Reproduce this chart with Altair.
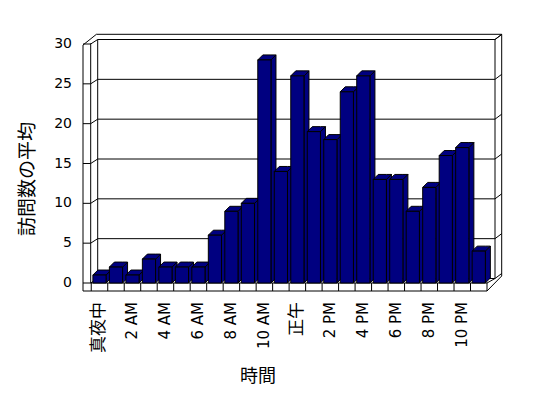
import altair as alt
import pandas as pd

# ---------------- data ----------------
hours = list(range(24))
visits = [1, 2, 1, 3, 2, 2, 2, 6, 9, 10, 28, 14, 26, 19, 18, 24, 26, 13, 13, 9, 12, 16, 17, 4]
label_hours = [0, 2, 4, 6, 8, 10, 12, 14, 16, 18, 20, 22]
x_labels = ["真夜中", "2 AM", "4 AM", "6 AM", "8 AM", "10 AM", "正午", "2 PM", "4 PM", "6 PM", "8 PM", "10 PM"]
y_ticks = [0, 5, 10, 15, 20, 25, 30]
x_title = "時間"
y_title = "訪問数の平均"

# ---------------- geometry / style ----------------
W, H = 404, 239
X0, X1 = -0.6, 23.9
Y0, Y1 = 0, 30
ux = W / (X1 - X0)
uy = H / (Y1 - Y0)
BW = 0.8                 # bar front width in category units
DX = 5 / ux              # 3D depth (x) in data units
DY = 5 / uy              # 3D depth (y) in data units
NAVY = "#000080"
FONT = "DejaVu Sans, Noto Sans CJK JP"
CJK = "Noto Sans CJK JP"

def xd(px):  # plot-local pixel -> x data
    return X0 + px / ux

def yd(py):  # plot-local pixel (from top) -> y data
    return Y1 - py / uy

xs = alt.Scale(domain=[X0, X1], nice=False, zero=False)
ys = alt.Scale(domain=[Y0, Y1], nice=False, zero=False)

def X(f):
    return alt.X(f, type="quantitative", scale=xs, axis=None)

def Y(f):
    return alt.Y(f, type="quantitative", scale=ys, axis=None, stack=None)

# ---------------- frame (walls, floor, gridlines) ----------------
LWI, BXL, BYO = 7.7, 14.7, -4.5
RWI, RWO, TOPO, FL = W + 8, W + 14.7, -9.7, 8
segs = [
    ((0, 1), (0, H + FL)),
    ((0, 1), (13.4, TOPO)),
    ((13.4, TOPO), (RWO, TOPO)),
    ((LWI, -0.7), (LWI, H)),
    ((BXL, BYO), (BXL, H + BYO)),
    ((RWI, BYO), (RWI, H + BYO)),
    ((RWO, TOPO), (RWO, H - 7)),
    ((RWO, H - 7), (W, H + FL)),
    ((RWI, BYO), (RWO, TOPO)),
    ((LWI, H), (W, H)),
    ((0, H + FL), (W, H + FL)),
    ((W, H), (RWI, H + BYO)),
]
for v in y_ticks:
    py = (Y1 - v) * uy
    segs += [
        ((0, py), (LWI, py)),
        ((LWI, py), (BXL, py + BYO)),
        ((BXL, py + BYO), (RWI, py + BYO)),
        ((RWI, py + BYO), (RWO, py + BYO - 5)),
    ]
for k in range(25):
    px = (k - 0.1 - X0) * ux
    segs.append(((px, H), (px, H + FL)))

frame_df = pd.DataFrame(
    [{"x": xd(a[0]), "y": yd(a[1]), "x2": xd(b[0]), "y2": yd(b[1])} for a, b in segs]
)

# ---------------- bars ----------------
bars = pd.DataFrame({"hour": hours, "visits": visits})
bars["x0"] = bars["hour"]
bars["x1"] = bars["hour"] + BW
bars["base"] = 0.0

top_rows, side_rows = [], []
for h, v in zip(hours, visits):
    top_rows += [
        {"hour": h, "x": h, "y": v, "y2": v},
        {"hour": h, "x": h + DX, "y": v + DY, "y2": v},
        {"hour": h, "x": h + BW, "y": v + DY, "y2": v},
        {"hour": h, "x": h + BW + DX, "y": v + DY, "y2": v + DY},
    ]
    side_rows += [
        {"hour": h, "x": h + BW, "y": v, "y2": 0.0},
        {"hour": h, "x": h + BW + DX, "y": v + DY, "y2": DY},
    ]
top_df = pd.DataFrame(top_rows)
side_df = pd.DataFrame(side_rows)

frame = alt.Chart(frame_df).mark_rule(color="black", strokeWidth=1).encode(
    x=X("x"), y=Y("y"), x2=alt.X2("x2"), y2=alt.Y2("y2")
)
sides = alt.Chart(side_df).mark_area(
    color=NAVY, stroke="black", strokeWidth=1, interpolate="linear", opacity=1
).encode(x=X("x"), y=Y("y"), y2=alt.Y2("y2"), detail="hour:N")
tops = alt.Chart(top_df).mark_area(
    color=NAVY, stroke="black", strokeWidth=1, interpolate="linear", opacity=1
).encode(x=X("x"), y=Y("y"), y2=alt.Y2("y2"), detail="hour:N")
fronts = alt.Chart(bars).mark_rect(color=NAVY, stroke="black", strokeWidth=1).encode(
    x=X("x0"), x2=alt.X2("x1"), y=Y("visits"), y2=alt.Y2("base")
)

# ---------------- texts ----------------
xlab_df = pd.DataFrame({"hour": label_hours, "label": x_labels})
xlab_df["xc"] = xlab_df["hour"] + BW / 2
xlab_df["base"] = 0.0
xlab_df["fs"] = [17 if not lab.isascii() else 15 for lab in x_labels]
xlabels = alt.Chart(xlab_df).mark_text(
    angle=270, align="right", baseline="middle", yOffset=19,
    font=FONT, color="black"
).encode(x=X("xc"), y=Y("base"), text="label:N",
         size=alt.Size("fs:Q", scale=None, legend=None))

ylab_df = pd.DataFrame({"v": y_ticks})
ylab_df["xl"] = X0
ylabels = alt.Chart(ylab_df).mark_text(
    align="right", baseline="middle", fontSize=14, xOffset=-11, font=FONT, color="black"
).encode(x=X("xl"), y=Y("v"), text="v:Q")

xtitle = alt.Chart(pd.DataFrame({"t": [x_title]})).mark_text(
    fontSize=18, font=CJK, align="center", baseline="middle", color="black"
).encode(x=alt.value(175), y=alt.value(333), text="t:N")
ytitle = alt.Chart(pd.DataFrame({"t": [y_title]})).mark_text(
    fontSize=19, font=CJK, angle=270, align="center", baseline="middle", color="black"
).encode(x=alt.value(-55), y=alt.value(135), text="t:N")

chart = alt.layer(frame, sides, tops, fronts, xlabels, ylabels, xtitle, ytitle).properties(
    width=W, height=H,
    autosize=alt.AutoSizeParams(type="none"),
    padding={"left": 83, "top": 44, "right": 548 - 83 - W, "bottom": 398 - 44 - H},
    background="white",
).configure_view(stroke=None)

chart.save("out.html", embed_options={"renderer": "svg", "actions": False})
